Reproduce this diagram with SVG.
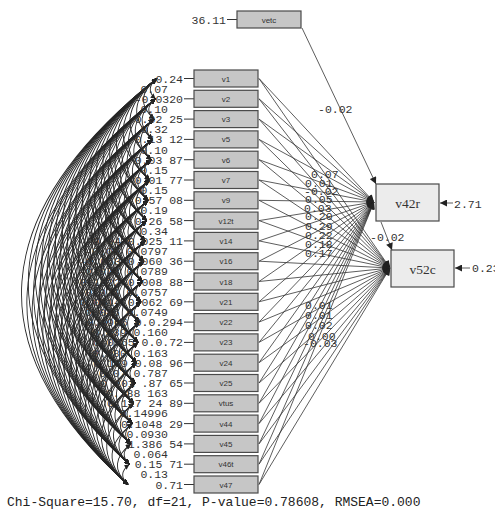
<svg xmlns="http://www.w3.org/2000/svg" xmlns:xlink="http://www.w3.org/1999/xlink" width="495" height="513" viewBox="0 0 495 513">
<style>
.bx{fill:#c6c6c6;stroke:#4a4a4a;stroke-width:1.2}
.by{fill:#ececec;stroke:#4a4a4a;stroke-width:1.2}
.bl{font-family:"Liberation Sans",Arial,sans-serif;font-size:8px;fill:#333;text-anchor:middle}
.yl{font-family:"Liberation Serif","Times New Roman",serif;font-size:13.5px;fill:#333;text-anchor:middle}
.nm{font-family:"Liberation Mono","Courier New",monospace;font-size:11.5px;fill:#333;text-anchor:end}
.nl{font-family:"Liberation Mono","Courier New",monospace;font-size:11.5px;fill:#333}
.el{stroke:#333;stroke-width:1}
.gp{fill:none;stroke:#333;stroke-width:.8;marker-end:url(#ab)}
.ft{font-family:"Liberation Mono","Courier New",monospace;font-size:13px;fill:#222}
</style>
<defs>
<marker id="ah" viewBox="0 0 10 10" refX="10" refY="5" markerWidth="8" markerHeight="5.5" markerUnits="userSpaceOnUse" orient="auto-start-reverse"><path d="M0,0L10,5L0,10z" fill="#222"/></marker>
<marker id="ab" viewBox="0 0 10 10" refX="10" refY="5" markerWidth="10" markerHeight="7" markerUnits="userSpaceOnUse" orient="auto"><path d="M0,0L10,5L0,10z" fill="#222"/></marker>
<path id="s1" d="M0 0Q-13.7 10.15 0 20.3"/>
<path id="s2" d="M0 0Q-27.4 20.3 0 40.6"/>
<path id="s3" d="M0 0Q-41.1 30.45 0 60.9"/>
<path id="s4" d="M0 0Q-54.8 40.6 0 81.2"/>
<path id="s5" d="M0 0Q-68.5 50.75 0 101.5"/>
<path id="s6" d="M0 0Q-82.2 60.9 0 121.8"/>
<path id="s7" d="M0 0Q-95.9 71.05 0 142.1"/>
<path id="s8" d="M0 0Q-109.6 81.2 0 162.4"/>
<path id="s9" d="M0 0Q-123.3 91.35 0 182.7"/>
<path id="s10" d="M0 0Q-137 101.5 0 203"/>
<path id="s11" d="M0 0Q-150.7 111.65 0 223.3"/>
<path id="s12" d="M0 0Q-164.4 121.8 0 243.6"/>
<path id="s13" d="M0 0Q-178.1 131.95 0 263.9"/>
<path id="s14" d="M0 0Q-191.8 142.1 0 284.2"/>
<path id="s15" d="M0 0Q-205.5 152.25 0 304.5"/>
<path id="s16" d="M0 0Q-219.2 162.4 0 324.8"/>
<path id="s17" d="M0 0Q-232.9 172.55 0 345.1"/>
<path id="s18" d="M0 0Q-246.6 182.7 0 365.4"/>
<path id="s19" d="M0 0Q-260.3 192.85 0 385.7"/>
<path id="s20" d="M0 0Q-274 203 0 406"/>
<g id="g1"><use href="#s1"/></g>
<g id="g2"><use href="#g1"/><use href="#s2"/></g>
<g id="g3"><use href="#g2"/><use href="#s3"/></g>
<g id="g4"><use href="#g3"/><use href="#s4"/></g>
<g id="g5"><use href="#g4"/><use href="#s5"/></g>
<g id="g6"><use href="#g5"/><use href="#s6"/></g>
<g id="g7"><use href="#g6"/><use href="#s7"/></g>
<g id="g8"><use href="#g7"/><use href="#s8"/></g>
<g id="g9"><use href="#g8"/><use href="#s9"/></g>
<g id="g10"><use href="#g9"/><use href="#s10"/></g>
<g id="g11"><use href="#g10"/><use href="#s11"/></g>
<g id="g12"><use href="#g11"/><use href="#s12"/></g>
<g id="g13"><use href="#g12"/><use href="#s13"/></g>
<g id="g14"><use href="#g13"/><use href="#s14"/></g>
<g id="g15"><use href="#g14"/><use href="#s15"/></g>
<g id="g16"><use href="#g15"/><use href="#s16"/></g>
<g id="g17"><use href="#g16"/><use href="#s17"/></g>
<g id="g18"><use href="#g17"/><use href="#s18"/></g>
<g id="g19"><use href="#g18"/><use href="#s19"/></g>
<g id="g20"><use href="#g19"/><use href="#s20"/></g>
</defs>
<rect width="495" height="513" fill="#fff"/>
<g id="connectors">
<g id="arcs" transform="matrix(0.88,0,-0.0714,1,24.45,0)" fill="none" stroke="#262626" stroke-width="1" marker-start="url(#ah)" marker-end="url(#ah)">
<use href="#g20" x="157" y="78.5"/>
<use href="#g19" x="157" y="98.8"/>
<use href="#g18" x="157" y="119.1"/>
<use href="#g17" x="157" y="139.4"/>
<use href="#g16" x="157" y="159.7"/>
<use href="#g15" x="157" y="180"/>
<use href="#g14" x="157" y="200.3"/>
<use href="#g13" x="157" y="220.6"/>
<use href="#g12" x="157" y="240.9"/>
<use href="#g11" x="157" y="261.2"/>
<use href="#g10" x="157" y="281.5"/>
<use href="#g9" x="157" y="301.8"/>
<use href="#g8" x="157" y="322.1"/>
<use href="#g7" x="157" y="342.4"/>
<use href="#g6" x="157" y="362.7"/>
<use href="#g5" x="157" y="383"/>
<use href="#g4" x="157" y="403.3"/>
<use href="#g3" x="157" y="423.6"/>
<use href="#g2" x="157" y="443.9"/>
<use href="#g1" x="157" y="464.2"/>
</g>
<g id="paths-v42r">
<path class="gp" d="M259 78.5L374 202"/>
<path class="gp" d="M259 98.8L374 202"/>
<path class="gp" d="M259 119.1L374 202"/>
<path class="gp" d="M259 139.4L374 202"/>
<path class="gp" d="M259 159.7L374 202"/>
<path class="gp" d="M259 180L374 202"/>
<path class="gp" d="M259 200.3L374 202"/>
<path class="gp" d="M259 220.6L374 202"/>
<path class="gp" d="M259 240.9L374 202"/>
<path class="gp" d="M259 261.2L374 202"/>
<path class="gp" d="M259 281.5L374 202"/>
<path class="gp" d="M259 301.8L374 202"/>
<path class="gp" d="M259 322.1L374 202"/>
<path class="gp" d="M259 342.4L374 202"/>
<path class="gp" d="M259 362.7L374 202"/>
<path class="gp" d="M259 383L374 202"/>
<path class="gp" d="M259 403.3L374 202"/>
<path class="gp" d="M259 423.6L374 202"/>
<path class="gp" d="M259 443.9L374 202"/>
<path class="gp" d="M259 464.2L374 202"/>
<path class="gp" d="M259 484.5L374 202"/>
</g>
<g id="paths-v52c">
<path class="gp" d="M259 78.5L390 268"/>
<path class="gp" d="M259 98.8L390 268"/>
<path class="gp" d="M259 119.1L390 268"/>
<path class="gp" d="M259 139.4L390 268"/>
<path class="gp" d="M259 159.7L390 268"/>
<path class="gp" d="M259 180L390 268"/>
<path class="gp" d="M259 200.3L390 268"/>
<path class="gp" d="M259 220.6L390 268"/>
<path class="gp" d="M259 240.9L390 268"/>
<path class="gp" d="M259 261.2L390 268"/>
<path class="gp" d="M259 281.5L390 268"/>
<path class="gp" d="M259 301.8L390 268"/>
<path class="gp" d="M259 322.1L390 268"/>
<path class="gp" d="M259 342.4L390 268"/>
<path class="gp" d="M259 362.7L390 268"/>
<path class="gp" d="M259 383L390 268"/>
<path class="gp" d="M259 403.3L390 268"/>
<path class="gp" d="M259 423.6L390 268"/>
<path class="gp" d="M259 443.9L390 268"/>
<path class="gp" d="M259 464.2L390 268"/>
<path class="gp" d="M259 484.5L390 268"/>
</g>
<path class="gp" d="M302 28L376 184"/>
<path class="gp" d="M381 222L392 250"/>
<path class="gp" d="M453 203L440 203"/>
<path class="gp" d="M470 268L455 268"/>
<g id="arc-labels">
<text class="nm" x="168" y="92.65">0.07</text>
<text class="nm" x="168" y="112.95">0.10</text>
<text class="nm" x="168" y="133.25">0.32</text>
<text class="nm" x="168" y="153.55">0.10</text>
<text class="nm" x="168" y="173.85">0.15</text>
<text class="nm" x="168" y="194.15">0.15</text>
<text class="nm" x="168" y="214.45">0.19</text>
<text class="nm" x="168" y="234.75">0.34</text>
<text class="nm" x="168" y="255.05">-0.05  0.0797</text>
<text class="nm" x="168" y="275.35">-0.073  0.0789</text>
<text class="nm" x="168" y="295.65">-0.071  0.0757</text>
<text class="nm" x="168" y="315.95">0.046  0.0749</text>
<text class="nm" x="168" y="336.25">0.039 0.160</text>
<text class="nm" x="168" y="356.55">0.080 0.163</text>
<text class="nm" x="168" y="376.85">0.07 0.787</text>
<text class="nm" x="168" y="397.15">0.188 163</text>
<text class="nm" x="168" y="417.45">0.14996</text>
<text class="nm" x="168" y="437.75">0.0930</text>
<text class="nm" x="168" y="458.05">0.064</text>
<text class="nm" x="168" y="478.35">0.13</text>
</g>
<g id="path-labels">
<text class="nl" x="318" y="113">-0.02</text>
<text class="nl" x="311" y="178">0.07</text>
<text class="nl" x="305" y="187">0.01</text>
<text class="nl" x="304" y="195">-0.02</text>
<text class="nl" x="305" y="203">0.05</text>
<text class="nl" x="304" y="212">0.03</text>
<text class="nl" x="305" y="220">0.20</text>
<text class="nl" x="305" y="230">0.29</text>
<text class="nl" x="305" y="239">0.22</text>
<text class="nl" x="305" y="248">0.18</text>
<text class="nl" x="305" y="257">0.17</text>
<text class="nl" x="370" y="241">-0.02</text>
<text class="nl" x="305" y="309">0.01</text>
<text class="nl" x="305" y="319">0.01</text>
<text class="nl" x="305" y="329">0.02</text>
<text class="nl" x="308" y="340">0.00</text>
<text class="nl" x="303" y="347">-0.03</text>
</g>
</g>
<g id="vetc"><line class="el" x1="227" y1="19.5" x2="237" y2="19.5"/><rect class="bx" x="237" y="11" width="64" height="17"/><text class="bl" x="269" y="22.5">vetc</text><text class="nm" x="226" y="23.5">36.11</text></g>
<g id="v1"><line class="el" x1="184" y1="78.5" x2="194" y2="78.5"/><rect class="bx" x="194" y="70" width="64" height="17"/><text class="bl" x="226" y="81.5">v1</text><text class="nm" x="183" y="82.5">0.24</text></g>
<g id="v2"><line class="el" x1="184" y1="98.8" x2="194" y2="98.8"/><rect class="bx" x="194" y="90.3" width="64" height="17"/><text class="bl" x="226" y="101.8">v2</text><text class="nm" x="183" y="102.8">-0.0320</text></g>
<g id="v3"><line class="el" x1="184" y1="119.1" x2="194" y2="119.1"/><rect class="bx" x="194" y="110.6" width="64" height="17"/><text class="bl" x="226" y="122.1">v3</text><text class="nm" x="183" y="123.1">0.02 25</text></g>
<g id="v5"><line class="el" x1="184" y1="139.4" x2="194" y2="139.4"/><rect class="bx" x="194" y="130.9" width="64" height="17"/><text class="bl" x="226" y="142.4">v5</text><text class="nm" x="183" y="143.4">0.13 12</text></g>
<g id="v6"><line class="el" x1="184" y1="159.7" x2="194" y2="159.7"/><rect class="bx" x="194" y="151.2" width="64" height="17"/><text class="bl" x="226" y="162.7">v6</text><text class="nm" x="183" y="163.7">0.03 87</text></g>
<g id="v7"><line class="el" x1="184" y1="180" x2="194" y2="180"/><rect class="bx" x="194" y="171.5" width="64" height="17"/><text class="bl" x="226" y="183">v7</text><text class="nm" x="183" y="184">0.01 77</text></g>
<g id="v9"><line class="el" x1="184" y1="200.3" x2="194" y2="200.3"/><rect class="bx" x="194" y="191.8" width="64" height="17"/><text class="bl" x="226" y="203.3">v9</text><text class="nm" x="183" y="204.3">0.57 08</text></g>
<g id="v12t"><line class="el" x1="184" y1="220.6" x2="194" y2="220.6"/><rect class="bx" x="194" y="212.1" width="64" height="17"/><text class="bl" x="226" y="223.6">v12t</text><text class="nm" x="183" y="224.6">0.26 58</text></g>
<g id="v14"><line class="el" x1="184" y1="240.9" x2="194" y2="240.9"/><rect class="bx" x="194" y="232.4" width="64" height="17"/><text class="bl" x="226" y="243.9">v14</text><text class="nm" x="183" y="244.9">-0.04  0.025 11</text></g>
<g id="v16"><line class="el" x1="184" y1="261.2" x2="194" y2="261.2"/><rect class="bx" x="194" y="252.7" width="64" height="17"/><text class="bl" x="226" y="264.2">v16</text><text class="nm" x="183" y="265.2">-0.053 0.060 36</text></g>
<g id="v18"><line class="el" x1="184" y1="281.5" x2="194" y2="281.5"/><rect class="bx" x="194" y="273" width="64" height="17"/><text class="bl" x="226" y="284.5">v18</text><text class="nm" x="183" y="285.5">-0.1522 0.008 88</text></g>
<g id="v21"><line class="el" x1="184" y1="301.8" x2="194" y2="301.8"/><rect class="bx" x="194" y="293.3" width="64" height="17"/><text class="bl" x="226" y="304.8">v21</text><text class="nm" x="183" y="305.8">0.0514 0.062 69</text></g>
<g id="v22"><line class="el" x1="184" y1="322.1" x2="194" y2="322.1"/><rect class="bx" x="194" y="313.6" width="64" height="17"/><text class="bl" x="226" y="325.1">v22</text><text class="nm" x="183" y="326.1">0.0906 0.0.294</text></g>
<g id="v23"><line class="el" x1="184" y1="342.4" x2="194" y2="342.4"/><rect class="bx" x="194" y="333.9" width="64" height="17"/><text class="bl" x="226" y="345.4">v23</text><text class="nm" x="183" y="346.4">0.0265 0.0.72</text></g>
<g id="v24"><line class="el" x1="184" y1="362.7" x2="194" y2="362.7"/><rect class="bx" x="194" y="354.2" width="64" height="17"/><text class="bl" x="226" y="365.7">v24</text><text class="nm" x="183" y="366.7">0 159 0.08 96</text></g>
<g id="v25"><line class="el" x1="184" y1="383" x2="194" y2="383"/><rect class="bx" x="194" y="374.5" width="64" height="17"/><text class="bl" x="226" y="386">v25</text><text class="nm" x="183" y="387">0 101 .87 65</text></g>
<g id="vtus"><line class="el" x1="184" y1="403.3" x2="194" y2="403.3"/><rect class="bx" x="194" y="394.8" width="64" height="17"/><text class="bl" x="226" y="406.3">vtus</text><text class="nm" x="183" y="407.3">0.127 24 89</text></g>
<g id="v44"><line class="el" x1="184" y1="423.6" x2="194" y2="423.6"/><rect class="bx" x="194" y="415.1" width="64" height="17"/><text class="bl" x="226" y="426.6">v44</text><text class="nm" x="183" y="427.6">0.1048 29</text></g>
<g id="v45"><line class="el" x1="184" y1="443.9" x2="194" y2="443.9"/><rect class="bx" x="194" y="435.4" width="64" height="17"/><text class="bl" x="226" y="446.9">v45</text><text class="nm" x="183" y="447.9">1.386 54</text></g>
<g id="v46t"><line class="el" x1="184" y1="464.2" x2="194" y2="464.2"/><rect class="bx" x="194" y="455.7" width="64" height="17"/><text class="bl" x="226" y="467.2">v46t</text><text class="nm" x="183" y="468.2">0.15 71</text></g>
<g id="v47"><line class="el" x1="184" y1="484.5" x2="194" y2="484.5"/><rect class="bx" x="194" y="476" width="64" height="17"/><text class="bl" x="226" y="487.5">v47</text><text class="nm" x="183" y="488.5">0.71</text></g>
<g id="v42r"><rect class="by" x="376" y="184" width="63" height="37"/><text class="yl" x="407.5" y="207.5">v42r</text><text class="nl" x="454" y="207.5">2.71</text></g>
<g id="v52c"><rect class="by" x="391" y="250" width="63" height="37"/><text class="yl" x="422.5" y="273.5">v52c</text><text class="nl" x="472" y="272">0.23</text></g>
<text class="ft" x="7" y="506">Chi-Square=15.70, df=21, P-value=0.78608, RMSEA=0.000</text>
</svg>
